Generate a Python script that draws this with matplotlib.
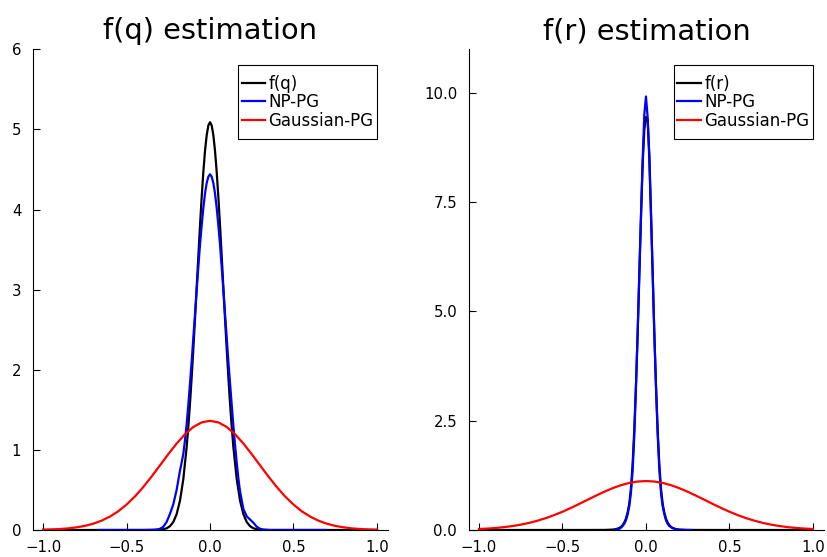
import matplotlib
matplotlib.use("Agg")
import matplotlib.pyplot as plt
from matplotlib.patches import Rectangle
from matplotlib.transforms import IdentityTransform

# f(q) panel: true density, nonparametric estimate, gaussian estimate
q_true_x = [-1.0, -0.5, -0.35, -0.32, -0.30, -0.28, -0.26, -0.24, -0.22, -0.20, -0.18, -0.16,
            -0.14, -0.13, -0.12, -0.11, -0.10, -0.09, -0.08, -0.07, -0.06, -0.05, -0.04, -0.03,
            -0.02, -0.01, 0.0, 0.01, 0.02, 0.03, 0.04, 0.05, 0.06, 0.07, 0.08, 0.09, 0.10, 0.11,
            0.12, 0.13, 0.14, 0.16, 0.18, 0.20, 0.22, 0.24, 0.26, 0.28, 0.30, 0.32, 0.35, 0.5, 1.0]
q_true_y = [0.0, 0.0, 0.0, 0.001, 0.003, 0.009, 0.021, 0.047, 0.099, 0.197, 0.365, 0.634,
            1.033, 1.287, 1.578, 1.902, 2.257, 2.634, 3.025, 3.417, 3.798, 4.153, 4.469, 4.731,
            4.927, 5.049, 5.09, 5.049, 4.927, 4.731, 4.469, 4.153, 3.798, 3.417, 3.025, 2.634, 2.257, 1.902,
            1.578, 1.287, 1.033, 0.634, 0.365, 0.197, 0.099, 0.047, 0.021, 0.009, 0.003, 0.001, 0.0, 0.0, 0.0]

q_np_x = [-0.67, -0.40, -0.34, -0.32, -0.30, -0.28, -0.26, -0.24, -0.22, -0.20, -0.19, -0.18,
          -0.17, -0.16, -0.15, -0.14, -0.13, -0.12, -0.11, -0.10, -0.09, -0.08, -0.07, -0.06,
          -0.05, -0.04, -0.03, -0.02, -0.01, 0.0, 0.01, 0.02, 0.03, 0.04, 0.05, 0.06, 0.07,
          0.08, 0.09, 0.10, 0.11, 0.12, 0.13, 0.14, 0.15, 0.16, 0.17, 0.18, 0.20, 0.22, 0.24,
          0.26, 0.28, 0.30, 0.32, 0.36, 0.69]
q_np_y = [0.0, 0.0, 0.003, 0.006, 0.015, 0.04, 0.10, 0.20, 0.32, 0.50, 0.62, 0.74,
          0.84, 0.95, 1.12, 1.32, 1.56, 1.83, 2.10, 2.40, 2.69, 2.99, 3.28, 3.56,
          3.80, 4.02, 4.20, 4.33, 4.41, 4.44, 4.41, 4.33, 4.20, 4.02, 3.80, 3.56, 3.28,
          2.99, 2.69, 2.40, 2.10, 1.83, 1.56, 1.30, 1.06, 0.84, 0.64, 0.48, 0.26, 0.17, 0.13,
          0.09, 0.04, 0.015, 0.005, 0.0, 0.0]

gauss_x = [-1.0, -0.95, -0.9, -0.85, -0.8, -0.75, -0.7, -0.65, -0.6, -0.55, -0.5, -0.45, -0.4,
           -0.35, -0.3, -0.25, -0.2, -0.15, -0.1, -0.05, 0.0, 0.05, 0.1, 0.15, 0.2, 0.25, 0.3,
           0.35, 0.4, 0.45, 0.5, 0.55, 0.6, 0.65, 0.7, 0.75, 0.8, 0.85, 0.9, 0.95, 1.0]
q_gauss_y = [0.004, 0.007, 0.012, 0.020, 0.033, 0.051, 0.078, 0.116, 0.167, 0.233, 0.317, 0.418, 0.536,
             0.667, 0.806, 0.946, 1.079, 1.195, 1.286, 1.343, 1.363, 1.343, 1.286, 1.195, 1.079, 0.946, 0.806,
             0.667, 0.536, 0.418, 0.317, 0.233, 0.167, 0.116, 0.078, 0.051, 0.033, 0.020, 0.012, 0.007, 0.004]

# f(r) panel
r_true_x = [-1.0, -0.4, -0.25, -0.20, -0.18, -0.16, -0.15, -0.14, -0.13, -0.12, -0.11, -0.10,
            -0.09, -0.08, -0.07, -0.06, -0.05, -0.04, -0.03, -0.02, -0.01, 0.0, 0.01, 0.02,
            0.03, 0.04, 0.05, 0.06, 0.07, 0.08, 0.09, 0.10, 0.11, 0.12, 0.13, 0.14, 0.15,
            0.16, 0.18, 0.20, 0.25, 0.4, 1.0]
r_true_y = [0.0, 0.0, 0.001, 0.008, 0.02, 0.045, 0.07, 0.11, 0.17, 0.26, 0.40, 0.60,
            0.95, 1.50, 2.30, 3.30, 4.45, 5.80, 7.15, 8.35, 9.15, 9.45, 9.40, 8.60,
            7.30, 5.90, 4.50, 3.30, 2.30, 1.50, 0.95, 0.60, 0.40, 0.26, 0.17, 0.11, 0.07,
            0.045, 0.02, 0.008, 0.001, 0.0, 0.0]

r_np_x = [-0.19, -0.17, -0.16, -0.15, -0.14, -0.13, -0.12, -0.11, -0.10, -0.09, -0.08, -0.07,
          -0.06, -0.05, -0.04, -0.03, -0.02, -0.01, 0.0, 0.01, 0.02, 0.03, 0.04, 0.05, 0.06,
          0.07, 0.08, 0.09, 0.10, 0.11, 0.12, 0.13, 0.14, 0.16, 0.18, 0.20, 0.23, 0.27]
r_np_y = [0.0, 0.01, 0.025, 0.05, 0.09, 0.14, 0.22, 0.35, 0.54, 0.85, 1.35, 2.15,
          3.25, 4.50, 5.85, 7.15, 8.45, 9.50, 9.92, 9.45, 8.50, 7.20, 5.90, 4.50, 3.30,
          2.20, 1.40, 0.85, 0.54, 0.36, 0.22, 0.14, 0.09, 0.04, 0.015, 0.005, 0.001, 0.0]

r_gauss_y = [0.022, 0.032, 0.046, 0.065, 0.090, 0.122, 0.162, 0.212, 0.271, 0.340, 0.418, 0.504, 0.596,
             0.691, 0.785, 0.875, 0.956, 1.025, 1.077, 1.109, 1.120, 1.109, 1.077, 1.025, 0.956, 0.875, 0.785,
             0.691, 0.596, 0.504, 0.418, 0.340, 0.271, 0.212, 0.162, 0.122, 0.090, 0.065, 0.046, 0.032, 0.022]

q_yticks = [0, 1, 2, 3, 4, 5, 6]
r_yticks = [0.0, 2.5, 5.0, 7.5, 10.0]
r_yticklabels = ["0.0", "2.5", "5.0", "7.5", "10.0"]
x_ticks = [-1.0, -0.5, 0.0, 0.5, 1.0]

plt.rcParams["font.family"] = "DejaVu Sans"

fig = plt.figure(figsize=(8.28, 5.57), dpi=100)
ax1 = fig.add_axes([0.0399, 0.0485, 0.4287, 0.863])
ax2 = fig.add_axes([0.5664, 0.0485, 0.4287, 0.863])


def style(ax, title, ymax):
    ax.set_xlim(-1.06, 1.066)
    ax.set_ylim(0, ymax)
    ax.set_xticks(x_ticks)
    ax.set_xticklabels(["\u22121.0", "\u22120.5", "0.0", "0.5", "1.0"])
    for s in ["top", "right"]:
        ax.spines[s].set_visible(False)
    for s in ["left", "bottom"]:
        ax.spines[s].set_linewidth(0.8)
    ax.tick_params(direction="in", length=5, width=0.8, labelsize=10.7)
    ax.tick_params(axis="y", pad=8.5)
    ax.tick_params(axis="x", pad=7)
    ax.set_title(title, fontsize=20.8, pad=7.3)
    # frame drawn separately so it can be taller than the text block
    return ax.legend(loc="upper right", bbox_to_anchor=(0.968, 0.9538), borderaxespad=0,
                     fontsize=12, frameon=False, handlelength=1.4, handletextpad=0.2,
                     borderpad=0.2, labelspacing=0.02)


lw = 1.6
ax1.plot(q_true_x, q_true_y, color="black", lw=lw, label="f(q)")
ax1.plot(q_np_x, q_np_y, color="blue", lw=lw, label="NP-PG")
ax1.plot(gauss_x, q_gauss_y, color="red", lw=lw, label="Gaussian-PG")
ax1.set_yticks(q_yticks)
leg1 = style(ax1, "f(q) estimation", 6)

ax2.plot(r_true_x, r_true_y, color="black", lw=lw, label="f(r)")
ax2.plot(r_np_x, r_np_y, color="blue", lw=lw, label="NP-PG")
ax2.plot(gauss_x, r_gauss_y, color="red", lw=lw, label="Gaussian-PG")
ax2.set_yticks(r_yticks)
ax2.set_yticklabels(r_yticklabels)
leg2 = style(ax2, "f(r) estimation", 11)

fig.canvas.draw()
vpad = 6.5
for ax, leg in [(ax1, leg1), (ax2, leg2)]:
    bb = leg.get_window_extent()
    box = Rectangle((bb.x0, bb.y0 - vpad), bb.width, bb.height + 2 * vpad,
                    transform=IdentityTransform(), facecolor="white",
                    edgecolor="black", lw=0.8, zorder=4.5)
    ax.add_patch(box)

fig.savefig("out.png", dpi=100)
